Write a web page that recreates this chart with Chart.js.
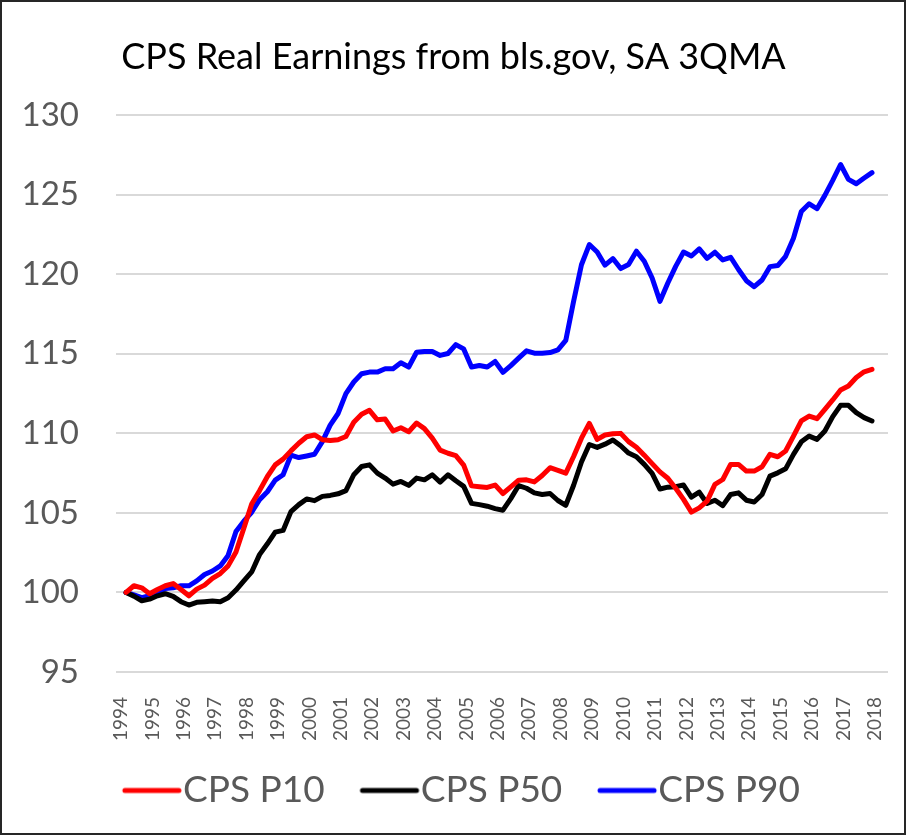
<!DOCTYPE html>
<html lang="en">
<head>
    <meta charset="UTF-8">
    <title>CPS Real Earnings from bls.gov, SA 3QMA</title>
    <script src="https://cdn.jsdelivr.net/npm/chart.js"></script>
    <style>
        body {
            margin: 0;
            background: #ffffff;
        }

        .frame {
            width: 906px;
            height: 835px;
            box-sizing: border-box;
            border: 2px solid #262626;
        }

        #earningsChart {
            display: block;
        }
    </style>
</head>
<body>
    <div class="frame">
        <canvas id="earningsChart" width="902" height="831"></canvas>
    </div>

    <script>
        // quarterly series, 1994Q1 .. 2017Q4, index 1994Q1 = 100
        const startYear = 1994;
        const yearTicks = [1994, 1995, 1996, 1997, 1998, 1999, 2000, 2001, 2002, 2003, 2004, 2005,
            2006, 2007, 2008, 2009, 2010, 2011, 2012, 2013, 2014, 2015, 2016, 2017, 2018];
        const yTicks = [95, 100, 105, 110, 115, 120, 125, 130];

        const p10 = [
            100.0, 100.42, 100.29, 99.92, 100.19, 100.42, 100.56, 100.19, 99.79, 100.21,
            100.46, 100.88, 101.19, 101.67, 102.54, 104.04, 105.56, 106.4, 107.29, 108.02,
            108.38, 108.9, 109.38, 109.79, 109.9, 109.6, 109.55, 109.6, 109.8, 110.7,
            111.2, 111.45, 110.85, 110.9, 110.15, 110.35, 110.1, 110.65, 110.3, 109.7,
            108.95, 108.75, 108.6, 108.0, 106.7, 106.65, 106.6, 106.75, 106.22, 106.64,
            107.06, 107.08, 106.95, 107.35, 107.84, 107.68, 107.5, 108.55, 109.7, 110.63,
            109.62, 109.9, 109.97, 110.0, 109.48, 109.13, 108.63, 108.1, 107.58, 107.18,
            106.55, 105.85, 105.05, 105.32, 105.74, 106.79, 107.1, 108.05, 108.05, 107.63,
            107.63, 107.9, 108.68, 108.53, 108.89, 109.83, 110.78, 111.09, 110.92, 111.51,
            112.1, 112.73, 112.98, 113.51, 113.87, 114.03
        ];

        const p50 = [
            100.0, 99.77, 99.48, 99.58, 99.79, 99.92, 99.75, 99.42, 99.21, 99.38,
            99.42, 99.46, 99.42, 99.67, 100.15, 100.73, 101.29, 102.38, 103.06, 103.79,
            103.9, 105.08, 105.52, 105.88, 105.77, 106.04, 106.1, 106.2, 106.4, 107.4,
            107.92, 108.02, 107.5, 107.19, 106.81, 106.98, 106.73, 107.19, 107.08, 107.4,
            106.94, 107.4, 107.02, 106.67, 105.6, 105.52, 105.42, 105.27, 105.17, 105.9,
            106.72, 106.55, 106.26, 106.16, 106.22, 105.78, 105.48, 106.74, 108.2, 109.3,
            109.12, 109.32, 109.58, 109.22, 108.76, 108.53, 108.05, 107.48, 106.5, 106.62,
            106.65, 106.75, 105.99, 106.3, 105.59, 105.8, 105.46, 106.16, 106.26, 105.8,
            105.69, 106.16, 107.31, 107.52, 107.77, 108.68, 109.47, 109.83, 109.62, 110.15,
            111.05, 111.76, 111.76, 111.3, 110.99, 110.78
        ];

        const p90 = [
            100.0, 99.85, 99.67, 99.79, 100.0, 100.25, 100.29, 100.42, 100.42, 100.73,
            101.13, 101.35, 101.67, 102.33, 103.83, 104.48, 105.04, 105.83, 106.33, 107.06,
            107.4, 108.63, 108.48, 108.58, 108.69, 109.48, 110.52, 111.25, 112.5, 113.23,
            113.75, 113.85, 113.85, 114.06, 114.06, 114.44, 114.17, 115.1, 115.15, 115.15,
            114.9, 115.02, 115.58, 115.31, 114.17, 114.27, 114.17, 114.52, 113.84, 114.26,
            114.73, 115.19, 115.04, 115.04, 115.08, 115.25, 115.84, 118.3, 120.6, 121.87,
            121.4, 120.57, 120.99, 120.36, 120.61, 121.45, 120.82, 119.77, 118.3, 119.45,
            120.5, 121.4, 121.15, 121.6, 121.0, 121.39, 120.9, 121.07, 120.3, 119.6,
            119.22, 119.64, 120.48, 120.55, 121.13, 122.27, 123.95, 124.43, 124.12, 124.96,
            125.9, 126.9, 125.97, 125.69, 126.05, 126.39
        ];

        const tickGray = '#595959';
        const fontFamily = 'Lato, "Open Sans", sans-serif';

        // x position of each value = year + quarter / 4
        function toPoints(values) {
            return values.map((v, i) => ({ x: startYear + i / 4, y: v }));
        }

        // legend swatch: short round-capped line sitting just left of the label text
        function legendSwatch(color) {
            const c = document.createElement('canvas');
            c.width = 96;
            c.height = 10;
            const g = c.getContext('2d');
            g.strokeStyle = color;
            g.lineWidth = 5;
            g.lineCap = 'round';
            g.beginPath();
            g.moveTo(37, 5);
            g.lineTo(91, 5);
            g.stroke();
            return c;
        }

        function lineSet(label, values, color) {
            return {
                label: label,
                data: toPoints(values),
                borderColor: color,
                backgroundColor: color,
                borderWidth: 5,
                borderCapStyle: 'round',
                borderJoinStyle: 'round',
                pointRadius: 0,
                pointStyle: legendSwatch(color),
                tension: 0,
                fill: false
            };
        }

        const ctx = document.getElementById('earningsChart').getContext('2d');
        const earningsChart = new Chart(ctx, {
            type: 'line',
            data: {
                datasets: [
                    lineSet('CPS P10', p10, '#ff0000'),
                    lineSet('CPS P50', p50, '#000000'),
                    lineSet('CPS P90', p90, '#0000ff')
                ]
            },
            options: {
                responsive: false,
                animation: false,
                layout: {
                    // small left padding nudges title + legend centre right
                    // (kept below the y labels' left edge so they are not clipped)
                    padding: { left: 17, right: 16, top: 0, bottom: 14 }
                },
                plugins: {
                    title: {
                        display: true,
                        text: 'CPS Real Earnings from bls.gov, SA 3QMA',
                        color: '#000000',
                        font: { family: fontFamily, size: 36, weight: 'normal' },
                        padding: { top: 34, bottom: 36 }
                    },
                    legend: {
                        position: 'bottom',
                        labels: {
                            usePointStyle: true,
                            pointStyleWidth: 57.5,
                            color: tickGray,
                            font: { family: fontFamily, size: 37 },
                            padding: 20
                        }
                    },
                    tooltip: { enabled: false }
                },
                scales: {
                    x: {
                        type: 'linear',
                        min: 1993.68,
                        max: 2018.26,
                        afterBuildTicks: scale => {
                            scale.ticks = yearTicks.map(v => ({ value: v }));
                        },
                        afterFit: scale => {
                            scale.height = 80;
                            scale.paddingLeft = 0;
                            scale.paddingRight = 0;
                        },
                        ticks: {
                            minRotation: 90,
                            maxRotation: 90,
                            padding: 17,
                            labelOffset: -5,
                            color: tickGray,
                            font: { family: fontFamily, size: 19 },
                            callback: v => String(v)
                        },
                        grid: { display: false },
                        border: { display: false }
                    },
                    y: {
                        min: 95,
                        max: 130,
                        afterBuildTicks: scale => {
                            scale.ticks = yTicks.map(v => ({ value: v }));
                        },
                        afterFit: scale => {
                            scale.width = 97;
                            scale.paddingTop = 0;
                            scale.paddingBottom = 0;
                        },
                        ticks: {
                            padding: 37,
                            color: tickGray,
                            font: { family: fontFamily, size: 33 }
                        },
                        grid: { color: '#d9d9d9', lineWidth: 2, drawTicks: false },
                        border: { display: false }
                    }
                }
            }
        });
    </script>
</body>
</html>
